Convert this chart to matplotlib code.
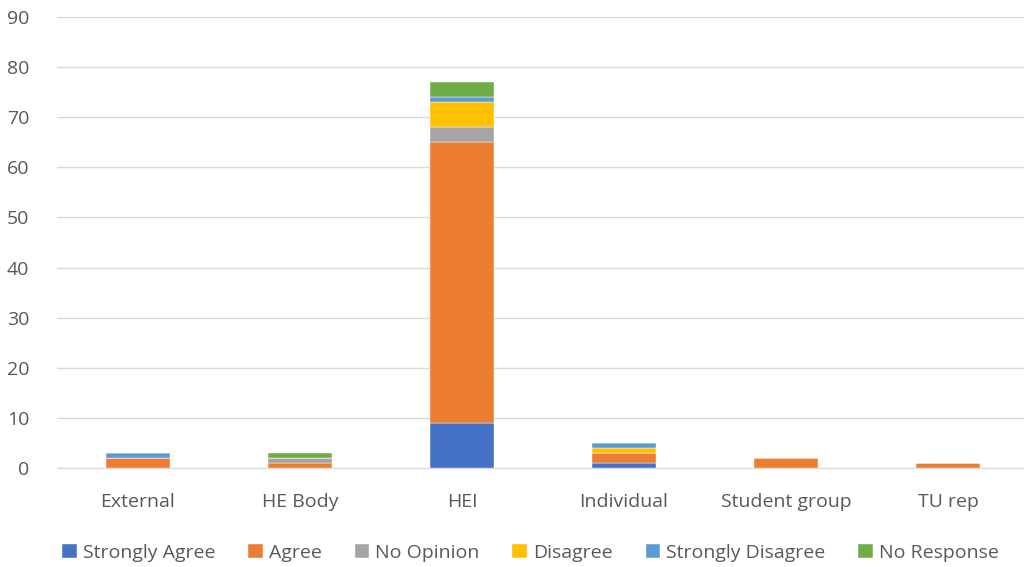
import matplotlib.pyplot as plt
import numpy as np

categories = ['External', 'HE Body', 'HEI', 'Individual', 'Student group', 'TU rep']
series = ['Strongly Agree', 'Agree', 'No Opinion', 'Disagree', 'Strongly Disagree', 'No Response']
strongly_agree = [0, 0, 9, 1, 0, 0]
agree = [2, 1, 56, 2, 2, 1]
no_opinion = [0, 1, 3, 0, 0, 0]
disagree = [0, 0, 5, 1, 0, 0]
strongly_disagree = [1, 0, 1, 1, 0, 0]
no_response = [0, 1, 3, 0, 0, 0]
colors = ['#4472C4', '#ED7D31', '#A5A5A5', '#FFC000', '#5B9BD5', '#70AD47']

plt.rcParams['font.family'] = ['Open Sans', 'DejaVu Sans']

fig = plt.figure(figsize=(10.24, 5.67), dpi=100)
ax = fig.add_axes([57 / 1024, 1 - 468 / 567, 972 / 1024, 451 / 567])

x = np.arange(len(categories))
bottom = np.zeros(len(categories))
for name, vals, c in zip(series,
                         [strongly_agree, agree, no_opinion, disagree, strongly_disagree, no_response],
                         colors):
    ax.bar(x, vals, 0.4, bottom=bottom, color=c, label=name, zorder=3,
           edgecolor='white', linewidth=0.3)
    bottom += np.array(vals)

ax.set_xlim(-0.5, 5.5)
ax.set_ylim(0, 90)
ax.set_yticks(range(0, 91, 10))
ax.set_xticks(x)
ax.set_xticklabels(categories)
ax.grid(axis='y', color='#D9D9D9', linewidth=1, zorder=0)
for s in ['top', 'right', 'left']:
    ax.spines[s].set_visible(False)
ax.spines['bottom'].set_color('#D9D9D9')
ax.tick_params(length=0, labelsize=14, colors='#595959')
ax.tick_params(axis='x', pad=18)
ax.tick_params(axis='y', pad=20)

fig.legend(loc='lower center', ncol=6, frameon=False, fontsize=14,
           labelcolor='#595959', handlelength=0.75, handleheight=0.75,
           handletextpad=0.3, columnspacing=1.7, bbox_to_anchor=(0.518, -0.022))

fig.savefig('out.png', dpi=100)
